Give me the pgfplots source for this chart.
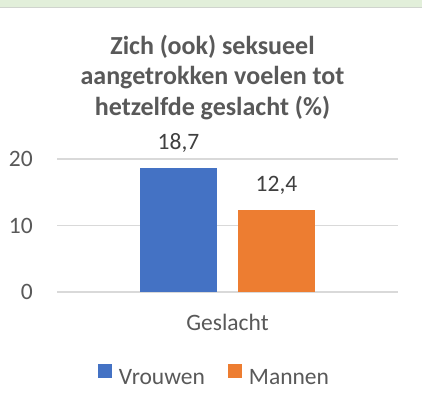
\documentclass[border=0pt]{standalone}
\usepackage{pgfplots}
\pgfplotsset{compat=1.18}
\usepackage{fontspec}
\setmainfont{Carlito}
\definecolor{bandgreen}{HTML}{E2EFDA}
\definecolor{bandline}{HTML}{D0D4CE}
\definecolor{txtgray}{HTML}{595959}
\definecolor{lblgray}{HTML}{404040}
\definecolor{gridgray}{HTML}{D9D9D9}
\definecolor{cblue}{HTML}{4472C4}
\definecolor{corange}{HTML}{ED7D31}
\begin{document}
\begin{tikzpicture}
\path[use as bounding box, fill=white] (0,0) rectangle (422bp,405bp);
\fill[bandgreen] (0,398bp) rectangle (422bp,405bp);
\fill[bandline] (0,397bp) rectangle (422bp,398.2bp);
\begin{axis}[
  at={(57bp,113bp)}, anchor=south west,
  scale only axis, width=341bp, height=133bp,
  xmin=-1, xmax=1, ymin=0, ymax=20,
  ytick={0,10,20}, xtick={0}, xticklabels={Geslacht},
  axis line style={draw=none}, major tick length=0pt,
  ymajorgrids, grid style={color=gridgray, line width=1.2bp},
  clip=false,
  /pgf/number format/assume math mode=true,
  tick label style={font=\fontsize{23.5bp}{28bp}\selectfont, color=txtgray},
  yticklabel style={anchor=east, inner sep=0pt, xshift=-24bp},
  xticklabel style={anchor=base, inner sep=0pt, yshift=-38bp},
  ybar, bar width=77bp,
  nodes near coords={\pgfmathprintnumber[use comma,fixed,fixed zerofill,precision=1]{\pgfplotspointmeta}},
  nodes near coords style={font=\fontsize{23.5bp}{28bp}\selectfont, color=lblgray, anchor=base, inner sep=0pt, yshift=18bp},
  title={Zich (ook) seksueel\\aangetrokken voelen tot\\hetzelfde geslacht (\%)},
  title style={font=\bfseries\fontsize{26bp}{30.5bp}\selectfont, color=txtgray, align=center, at={(axis description cs:0.5,1)}, anchor=south, inner sep=0pt, xshift=-15bp, yshift=33bp},
  legend style={at={(axis description cs:0.5,0)}, anchor=center, xshift=-13bp, yshift=-84bp, draw=none, fill=none,
    font=\fontsize{23.5bp}{28bp}\selectfont, text=txtgray, legend columns=2,
    /tikz/every even column/.append style={column sep=21bp}},
  legend image code/.code={\fill[#1] (0bp,-0.5bp) rectangle (14bp,13.5bp); \path (19bp,0bp);},
]
\addplot[fill=cblue, draw=none, bar shift=-49bp] coordinates {(0,18.7)};
\addplot[fill=corange, draw=none, bar shift=49bp] coordinates {(0,12.4)};
\legend{Vrouwen,Mannen}
\end{axis}
\end{tikzpicture}
\end{document}
